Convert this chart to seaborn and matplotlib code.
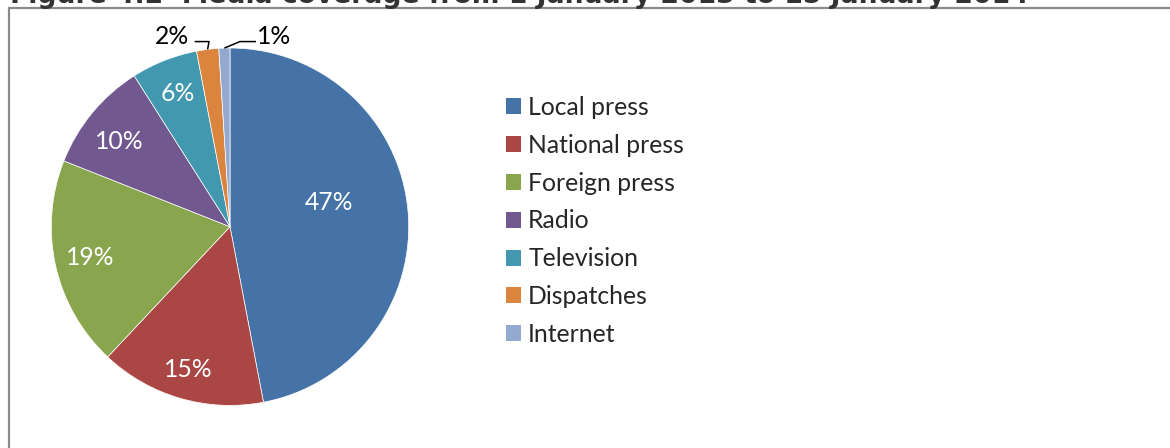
import numpy as np
import matplotlib
matplotlib.use("Agg")
import matplotlib.pyplot as plt
from matplotlib.patches import Rectangle, Patch
import seaborn as sns

# Media coverage shares
categories = ["Local press", "National press", "Foreign press", "Radio",
              "Television", "Dispatches", "Internet"]
shares = [47, 15, 19, 10, 6, 2, 1]
slice_colors = ["#4572A7", "#AA4643", "#89A54E", "#71588F",
                "#4198AF", "#DB843D", "#93A9CF"]
title_text = "Figure 4.2  Media coverage from 1 January 2013 to 15 January 2014"

sns.set_theme(style="white")
plt.rcParams["font.family"] = ["Lato", "DejaVu Sans"]
palette = sns.color_palette(slice_colors)

W, H = 1170, 448
fig = plt.figure(figsize=(W / 100, H / 100), dpi=100)
fig.patch.set_facecolor("white")

# chart border (runs off the right and bottom edges)
fig.add_artist(Rectangle((9 / W, -0.2), 1.2, 1.2 - 8 / H, transform=fig.transFigure,
                         fill=False, edgecolor="#8a8a8a", linewidth=1.6))

# caption, partly above the top edge
fig.text(10 / W, 1 - 3 / H, title_text, fontsize=19.2, fontweight="bold",
         family="DejaVu Sans", color="#333333", va="baseline", ha="left")

cx, cy, r = 230, 226.7, 178.7
ax = fig.add_axes([(cx - r) / W, (H - cy - r) / H, 2 * r / W, 2 * r / H])

wedges, texts, autotexts = ax.pie(
    shares, colors=palette, startangle=90, counterclock=False, radius=1,
    autopct=lambda p: f"{p:.0f}%", pctdistance=0.8,
    wedgeprops=dict(edgecolor="white", linewidth=0.5),
    textprops=dict(color="white", fontsize=17.8))
ax.set_xlim(-1, 1)
ax.set_ylim(-1, 1)
ax.set_aspect("equal")
ax.axis("off")

# inside labels: distance from centre and optional angle override (degrees)
label_dist = [0.57, 0.835, 0.80, 0.78, 0.80]
label_angle = {0: 13.5, 3: 142.4}
for i, dist in enumerate(label_dist):
    w = wedges[i]
    a = np.deg2rad(label_angle.get(i, (w.theta1 + w.theta2) / 2))
    autotexts[i].set_position((dist * np.cos(a), dist * np.sin(a)))

# small slices: labels outside with elbow leader lines
for i, (dx_elbow, dx_text) in zip([5, 6], [(-0.08, -0.13), (0.09, 0.10)]):
    w = wedges[i]
    mid = np.deg2rad((w.theta1 + w.theta2) / 2)
    ex, ey = np.cos(mid), np.sin(mid)
    yl = 1.036
    x1 = ex + (0.008 if i == 5 else 0.087)
    x2 = x1 + dx_elbow
    ax.plot([ex, x1, x2], [ey, yl, yl], color="black", lw=1.1,
            clip_on=False, solid_capstyle="butt")
    autotexts[i].set_position((x2 + dx_text, yl + 0.03))
    autotexts[i].set_color("black")
    autotexts[i].set_clip_on(False)

handles = [Patch(facecolor=c, edgecolor="none") for c in palette]
fig.legend(handles, categories, loc="upper left",
           bbox_to_anchor=(496 / W, 1 - 86 / H), frameon=False,
           fontsize=17.8, handlelength=0.62, handleheight=0.62,
           handletextpad=0.28, labelspacing=0.6, borderaxespad=0)

fig.savefig("out.png", dpi=100, facecolor="white")
